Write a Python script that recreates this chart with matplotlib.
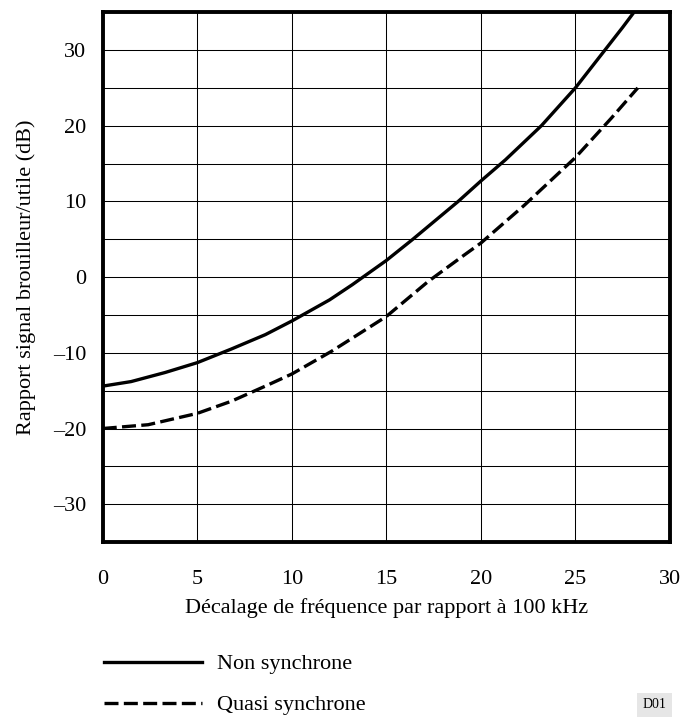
import matplotlib.pyplot as plt
from matplotlib.ticker import MultipleLocator, FixedLocator

plt.rcParams['font.family'] = ['Liberation Serif', 'DejaVu Serif']

# values
x_non = [0, 1.5, 3.3, 5, 6.8, 8.6, 10, 12, 13.2, 15, 16.4, 18.8, 20, 21.3, 23.2, 25, 26.5, 27.5, 28.1]
y_non = [-14.4, -13.8, -12.6, -11.3, -9.5, -7.6, -5.8, -3.0, -1.0, 2.2, 5.0, 10.0, 12.7, 15.5, 20.0, 25.0, 29.8, 33.0, 35.0]

x_quasi = [0, 2.4, 5, 6.8, 8.6, 10, 12.1, 13.3, 15, 17.2, 19, 20, 22.3, 25, 26.9, 28.3]
y_quasi = [-20.0, -19.5, -18.0, -16.4, -14.4, -12.8, -9.8, -7.9, -5.2, -0.6, 2.7, 4.5, 9.5, 15.8, 21.0, 25.0]

xticks = [0, 5, 10, 15, 20, 25, 30]
yticks = [-30, -20, -10, 0, 10, 20, 30]


def main():
    fig = plt.figure(figsize=(6.85, 7.17), dpi=100)
    ax = fig.add_axes([0.150, 0.244, 0.828, 0.739])

    ax.plot(x_non, y_non, color='black', lw=2.4, label='Non synchrone')
    ax.plot(x_quasi, y_quasi, color='black', lw=2.4, ls=(0, (4.2, 1.6)), label='Quasi synchrone')

    ax.set_xlim(0, 30)
    ax.set_ylim(-35, 35)
    ax.xaxis.set_major_locator(FixedLocator(xticks))
    ax.yaxis.set_major_locator(FixedLocator(yticks))
    ax.yaxis.set_minor_locator(MultipleLocator(5))
    ax.set_xticklabels([str(t) for t in xticks])
    ax.set_yticklabels([str(t).replace('-', '\u2013') for t in yticks])
    ax.tick_params(which='both', length=0, labelsize=16)
    ax.tick_params(axis='x', pad=20)
    ax.tick_params(axis='y', pad=12)
    ax.grid(True, which='both', color='black', lw=0.75)
    for s in ax.spines.values():
        s.set_linewidth(2.8)

    ax.set_xlabel('Décalage de fréquence par rapport à 100 kHz', fontsize=16, labelpad=7)
    ax.set_ylabel('Rapport signal brouilleur/utile (dB)', fontsize=16, labelpad=12)

    fig.legend(loc='upper left', bbox_to_anchor=(0.152, 0.088), frameon=False,
               fontsize=16, handlelength=4.4, labelspacing=0.92, handletextpad=0.7,
               borderaxespad=0, borderpad=0)

    fig.text(0.956, 0.008, 'D01', fontsize=10, ha='center', va='bottom',
             bbox=dict(facecolor='#e6e6e6', edgecolor='none', pad=4))

    fig.savefig('out.png', dpi=100)


if __name__ == "__main__":
    main()
